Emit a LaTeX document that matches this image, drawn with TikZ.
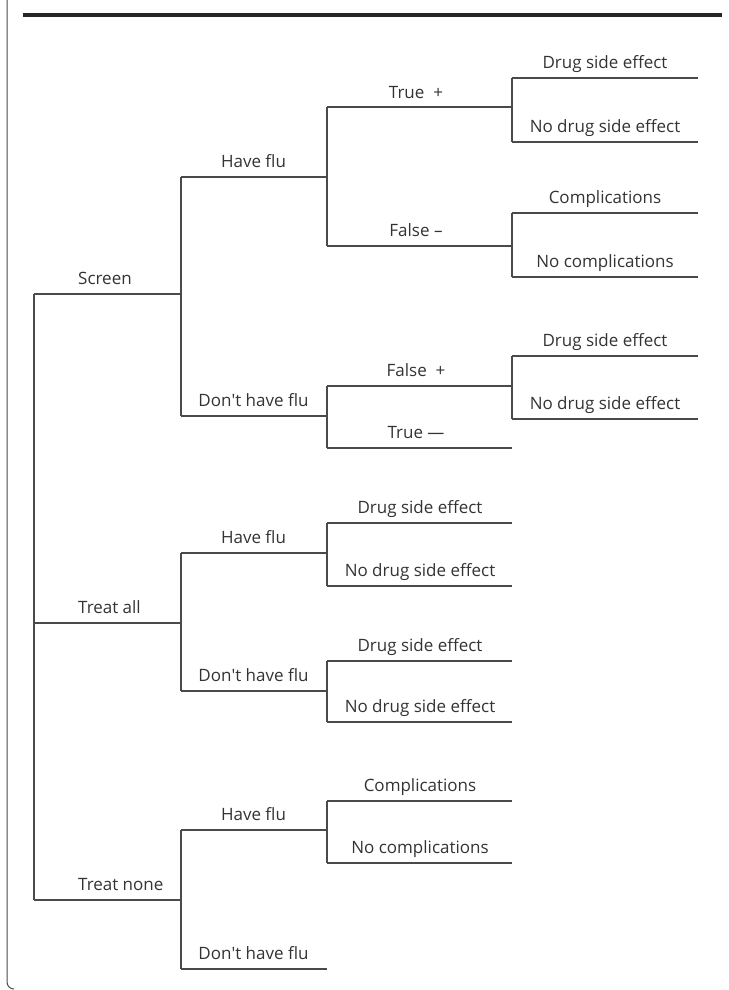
\documentclass[tikz,border=0pt]{standalone}
\usepackage{fontspec}
\setmainfont{Open Sans}
\definecolor{linegray}{HTML}{4A4A4A}
\definecolor{txtgray}{HTML}{333333}
\newcommand{\dhf}{Don\textquotesingle t have flu}
\begin{document}
\begin{tikzpicture}[x=1pt,y=-1pt,
  br/.style={draw=linegray,line width=1.3pt},
  framel/.style={draw=linegray,line width=1pt},
  rule/.style={draw=black!85,line width=4pt},
  lab/.style={anchor=base,inner sep=0pt,text=txtgray,font=\fontsize{17}{20}\selectfont},
  labw/.style={lab,anchor=base west}]
\useasboundingbox (0,0) rectangle (728,990);
% frame and title rule
\coordinate (fr1) at (7,-2);
\coordinate (fr2) at (7,989);
\coordinate (fr3) at (14,989);
\draw[framel,rounded corners=7pt] (fr1) -- (fr2) -- (fr3);
\coordinate (ru1) at (23,15);
\coordinate (ru2) at (722,15);
\draw[rule] (ru1) -- (ru2);
% root
\coordinate (r1) at (34,294);
\coordinate (r2) at (34,623);
\coordinate (r3) at (34,900);
\coordinate (a1) at (181,294);
\coordinate (a2) at (181,623);
\coordinate (a3) at (181,900);
\draw[br] (r1) -- (r3);
\draw[br] (r1) -- (a1);
\draw[br] (r2) -- (a2);
\draw[br] (r3) -- (a3);
% level 2
\coordinate (b11) at (181,177);
\coordinate (b12) at (181,416);
\coordinate (b21) at (181,553);
\coordinate (b22) at (181,691);
\coordinate (b31) at (181,830);
\coordinate (b32) at (181,969);
\coordinate (c11) at (327,177);
\coordinate (c12) at (327,416);
\coordinate (c21) at (327,553);
\coordinate (c22) at (327,691);
\coordinate (c31) at (327,830);
\coordinate (c32) at (327,969);
\draw[br] (b11) -- (b12);
\draw[br] (b21) -- (b22);
\draw[br] (b31) -- (b32);
\foreach \i in {11,12,21,22,31,32} \draw[br] (b\i) -- (c\i);
% level 3
\coordinate (d111) at (327,107);
\coordinate (d112) at (327,246);
\coordinate (d121) at (327,386);
\coordinate (d122) at (327,448);
\coordinate (d211) at (327,523);
\coordinate (d212) at (327,586);
\coordinate (d221) at (327,661);
\coordinate (d222) at (327,722);
\coordinate (d311) at (327,801);
\coordinate (d312) at (327,863);
\foreach \i in {111,112,121,122,211,212,221,222,311,312}
  \coordinate (e\i) at ([xshift=185pt]d\i);
\draw[br] (d111) -- (d112);
\draw[br] (d121) -- (d122);
\draw[br] (d211) -- (d212);
\draw[br] (d221) -- (d222);
\draw[br] (d311) -- (d312);
\foreach \i in {111,112,121,122,211,212,221,222,311,312} \draw[br] (d\i) -- (e\i);
% level 4
\coordinate (f1) at (512,78);
\coordinate (f2) at (512,142);
\coordinate (f3) at (512,213);
\coordinate (f4) at (512,277);
\coordinate (f5) at (512,356);
\coordinate (f6) at (512,419);
\foreach \i in {1,...,6} \coordinate (g\i) at ([xshift=186pt]f\i);
\draw[br] (f1) -- (f2);
\draw[br] (f3) -- (f4);
\draw[br] (f5) -- (f6);
\foreach \i in {1,...,6} \draw[br] (f\i) -- (g\i);
% labels level 1
\node[labw] (lS) at (78,284.5) {Screen};
\node[labw] (lTA) at (78,613.5) {Treat all};
\node[labw] (lTN) at (78,890.5) {Treat none};
% labels level 2
\node[lab] (l11) at (253.5,167.5) {Have flu};
\node[lab] (l12) at (253.5,406.5) {\dhf};
\node[lab] (l21) at (253.5,543.5) {Have flu};
\node[lab] (l22) at (253.5,681.5) {\dhf};
\node[lab] (l31) at (253.5,820.5) {Have flu};
\node[lab] (l32) at (253.5,959.5) {\dhf};
% labels level 3
\node[lab] (m111) at (416,98) {True\ \ +};
\node[lab] (m112) at (416,236.5) {False \textendash};
\node[lab] (m121) at (416,376.5) {False\ \ +};
\node[lab] (m122) at (416,438.5) {True \textemdash};
\node[lab] (m211) at (420,513.5) {Drug side effect};
\node[lab] (m212) at (420,576.5) {No drug side effect};
\node[lab] (m221) at (420,651.5) {Drug side effect};
\node[lab] (m222) at (420,712.5) {No drug side effect};
\node[lab] (m311) at (420,791.5) {Complications};
\node[lab] (m312) at (420,853.5) {No complications};
% labels level 4
\node[lab] (n1) at (605,68.5) {Drug side effect};
\node[lab] (n2) at (605,132.5) {No drug side effect};
\node[lab] (n3) at (605,203.5) {Complications};
\node[lab] (n4) at (605,267.5) {No complications};
\node[lab] (n5) at (605,346.5) {Drug side effect};
\node[lab] (n6) at (605,409.5) {No drug side effect};
\end{tikzpicture}
\end{document}
